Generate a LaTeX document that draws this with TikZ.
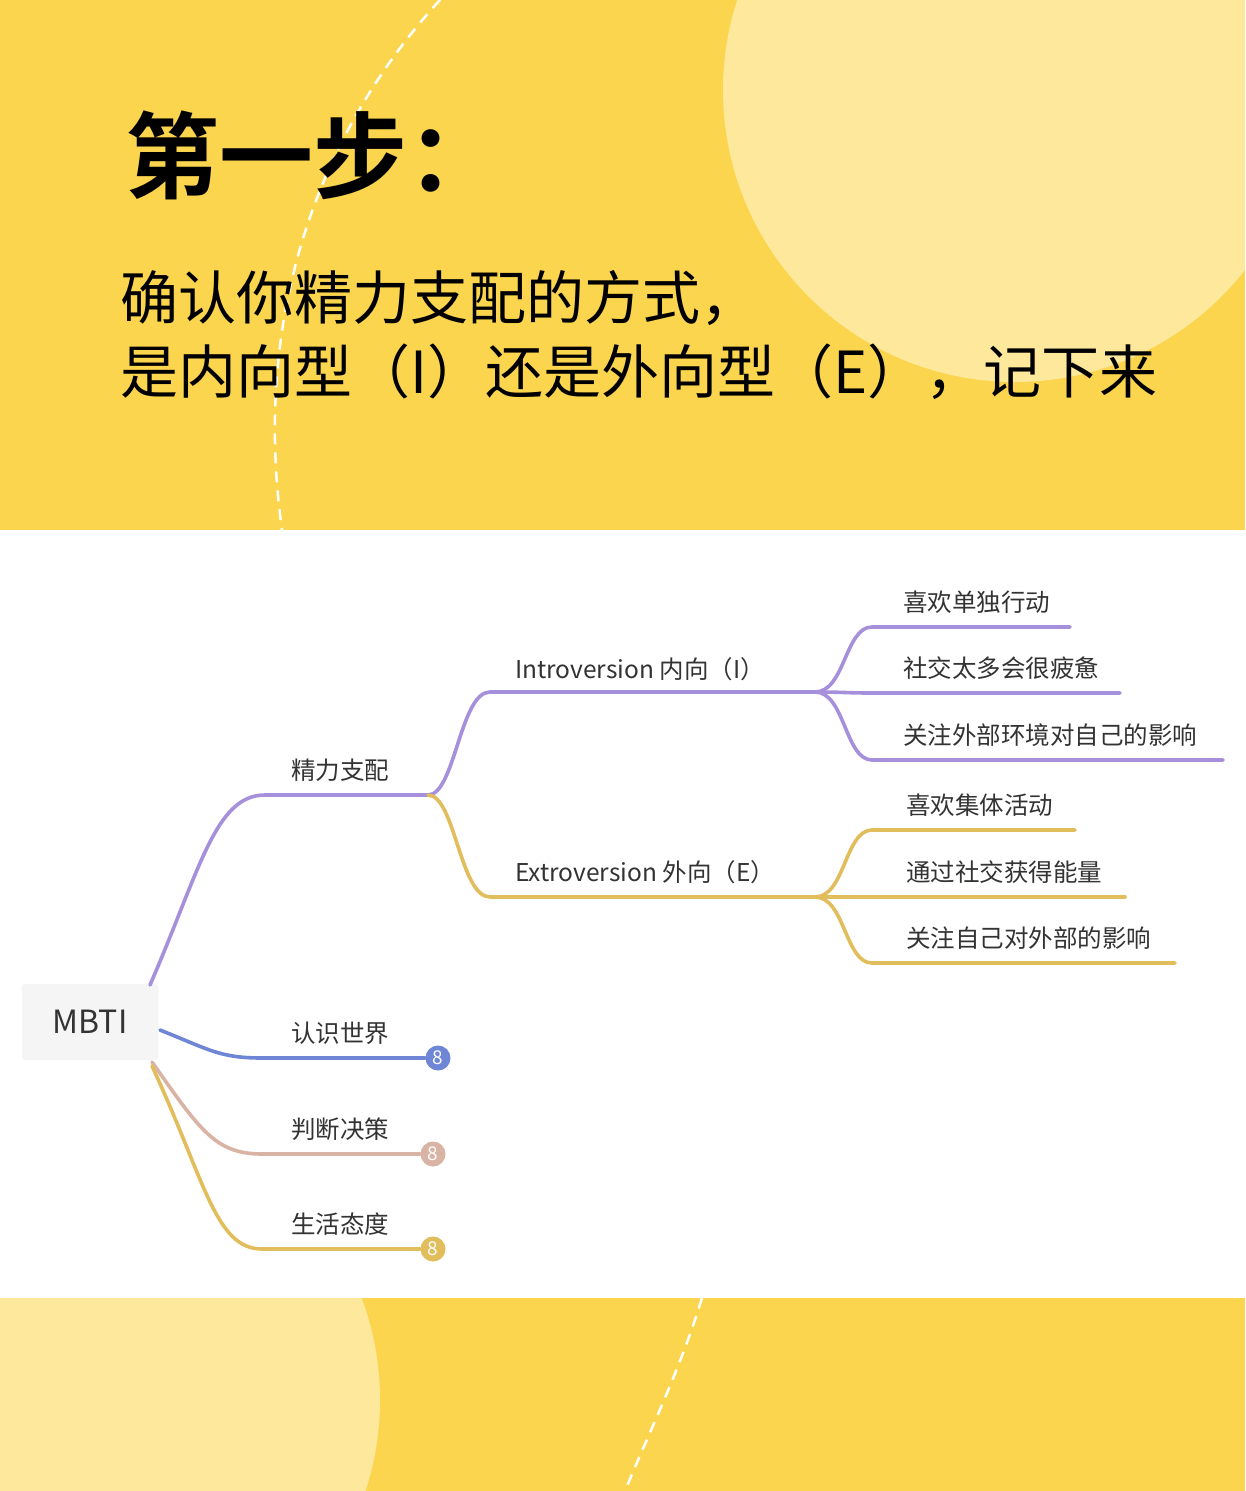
\documentclass[tikz,border=0pt]{standalone}
\usepackage{fontspec}
\setmainfont{Noto Sans CJK SC}
\newfontfamily\cjkb{Noto Sans CJK SC Bold}
\definecolor{ybg}{HTML}{FBD54E}
\definecolor{ylt}{HTML}{FDE89C}
\definecolor{cpur}{HTML}{A690DC}
\definecolor{cyel}{HTML}{E2BD5C}
\definecolor{cblu}{HTML}{6F86D6}
\definecolor{cpnk}{HTML}{D9B3A3}
\definecolor{ctxt}{HTML}{333333}
\tikzset{
  br/.style={line width=3.6pt, line cap=round},
  lbl/.style={font=\fontsize{24.5}{27}\selectfont, text=ctxt, inner sep=0pt},
  leaf/.style={lbl, anchor=west},
  badge/.style={circle, minimum size=25pt, inner sep=0pt, text=white, font=\fontsize{19}{19}\selectfont},
  wdash/.style={white, line width=2.5pt, dash pattern=on 11pt off 8pt}
}
\begin{document}
\begin{tikzpicture}[x=1pt,y=-1pt]
\useasboundingbox (0,0) rectangle (1245,1491);
\fill[ybg] (0,0) rectangle (1245,530);
\fill[ybg] (0,1298) rectangle (1245,1491);
\fill[white] (0,530) rectangle (1245,1298);
\begin{scope}
\clip (0,0) rectangle (1245,530);
\fill[ylt] (1015,90) circle (292);
\draw[wdash] (440,0) .. controls (330,120) and (250,300) .. (282,530);
\end{scope}
\begin{scope}
\clip (0,1298) rectangle (1245,1491);
\fill[ylt] (88,1400) circle (292);
\draw[wdash] (702,1298) .. controls (680,1370) and (650,1430) .. (625,1491);
\end{scope}
\node[anchor=west, inner sep=0pt] (t1) at (125,155) {\cjkb\fontsize{94}{94}\selectfont 第一步：};
\node[anchor=west, inner sep=0pt] (t2) at (120,298) {\fontsize{58}{60}\selectfont 确认你精力支配的方式，};
\node[anchor=west, inner sep=0pt] (t3) at (120,372) {\fontsize{58}{60}\selectfont 是内向型（I）还是外向型（E），记下来};
% root
\node[fill=black!4, rounded corners=3pt, minimum width=136pt, minimum height=76pt, font=\fontsize{32}{32}\selectfont, text=ctxt] (mbti) at (90,1022) {MBTI};
\coordinate (a0) at (150,985);
\coordinate (a1) at (265,795); \coordinate (a2) at (428,795);
\draw[br,cpur] (a0) .. controls (200,870) and (215,795) .. (a1) -- (a2);
\node[lbl] (n1) at (340,770) {精力支配};
\coordinate (i1) at (490,692); \coordinate (i2) at (815,692);
\coordinate (e1) at (490,897); \coordinate (e2) at (815,897);
\draw[br,cpur] (a2) .. controls (455,795) and (460,692) .. (i1) -- (i2);
\draw[br,cyel] (a2) .. controls (455,795) and (460,897) .. (e1) -- (e2);
\node[lbl] (ni) at (640,669) {Introversion 内向（I）};
\node[lbl] (ne) at (645,872) {Extroversion 外向（E）};
\foreach \y/\xe/\t [count=\k] in {627/1070/喜欢单独行动, 693/1120/社交太多会很疲惫, 760/1223/关注外部环境对自己的影响}{
  \coordinate (ia\k) at (872,\y); \coordinate (ib\k) at (\xe,\y);
  \draw[br,cpur] (i2) .. controls (845,692) and (845,\y) .. (ia\k) -- (ib\k);
  \node[leaf] (il\k) at (903,\y-25) {\t};
}
\foreach \y/\xe/\t [count=\k] in {830/1075/喜欢集体活动, 897/1125/通过社交获得能量, 963/1175/关注自己对外部的影响}{
  \coordinate (ea\k) at (872,\y); \coordinate (eb\k) at (\xe,\y);
  \draw[br,cyel] (e2) .. controls (845,897) and (845,\y) .. (ea\k) -- (eb\k);
  \node[leaf] (el\k) at (906,\y-25) {\t};
}
% other branches
\node[badge, fill=cblu] (b1) at (438,1058) {8};
\node[badge, fill=cpnk] (b2) at (433,1154) {8};
\node[badge, fill=cyel] (b3) at (433,1249) {8};
\coordinate (s1) at (160,1030); \coordinate (s1b) at (262,1058);
\draw[br,cblu] (s1) .. controls (210,1050) and (220,1058) .. (s1b) -- (b1.west);
\node[lbl] (n2) at (340,1033) {认识世界};
\coordinate (s2) at (152,1062); \coordinate (s2b) at (262,1154);
\draw[br,cpnk] (s2) .. controls (200,1130) and (215,1154) .. (s2b) -- (b2.west);
\node[lbl] (n3) at (340,1129) {判断决策};
\coordinate (s3) at (152,1066); \coordinate (s3b) at (262,1249);
\draw[br,cyel] (s3) .. controls (205,1180) and (215,1249) .. (s3b) -- (b3.west);
\node[lbl] (n4) at (340,1224) {生活态度};
\end{tikzpicture}
\end{document}
